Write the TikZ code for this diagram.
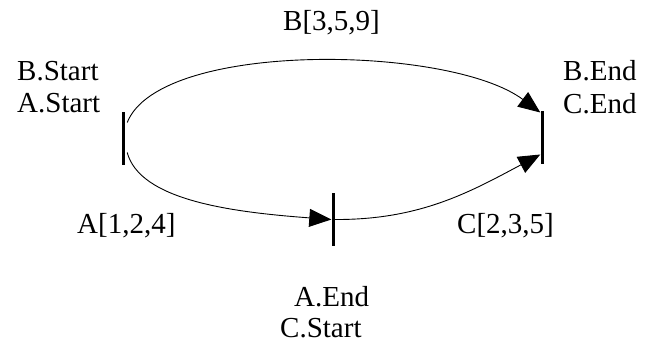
\documentclass[tikz,border=0pt]{standalone}
\usepackage{fontspec}
\setmainfont{Liberation Serif}
\usetikzlibrary{arrows.meta,calc}
\begin{document}
\begin{tikzpicture}[x=1pt,y=-1pt,
  lbl/.style={anchor=base west,inner sep=0pt,font=\fontsize{29}{31}\selectfont},
  bar/.style={fill=black,inner sep=0pt,minimum width=3pt,minimum height=53pt},
  flow/.style={line width=0.9pt,-{Triangle[length=22pt,width=18pt]}}]
\useasboundingbox (0,0) rectangle (645,343);
% event bars
\node[bar] (start) at (123,138.5) {};
\node[bar] (mid) at (333,219.5) {};
\node[bar] (fin) at (542,137.5) {};
% activities
\draw[flow] ($(start.east)+(2.5,-16)$) .. controls (160,40) and (450,45) .. ($(fin.west)+(0,-25)$);
\draw[flow] ($(start.east)+(2.5,14)$) .. controls (140,200) and (230,212) .. (mid.west);
\draw[flow] (mid.east) .. controls (420,220) and (470,192) .. ($(fin.west)+(0,17)$);
% labels
\node[lbl] (bs) at (17,80) {B.Start};
\node[lbl] (as) at (17,112) {A.Start};
\node[lbl] (be) at (563,80) {B.End};
\node[lbl] (ce) at (563,113) {C.End};
\node[lbl] (ae) at (294,306) {A.End};
\node[lbl] (cs) at (280,337) {C.Start};
\node[lbl] (lb) at (283,30) {B[3,5,9]};
\node[lbl] (la) at (77,233) {A[1,2,4]};
\node[lbl] (lc) at (457,233) {C[2,3,5]};
\end{tikzpicture}
\end{document}
